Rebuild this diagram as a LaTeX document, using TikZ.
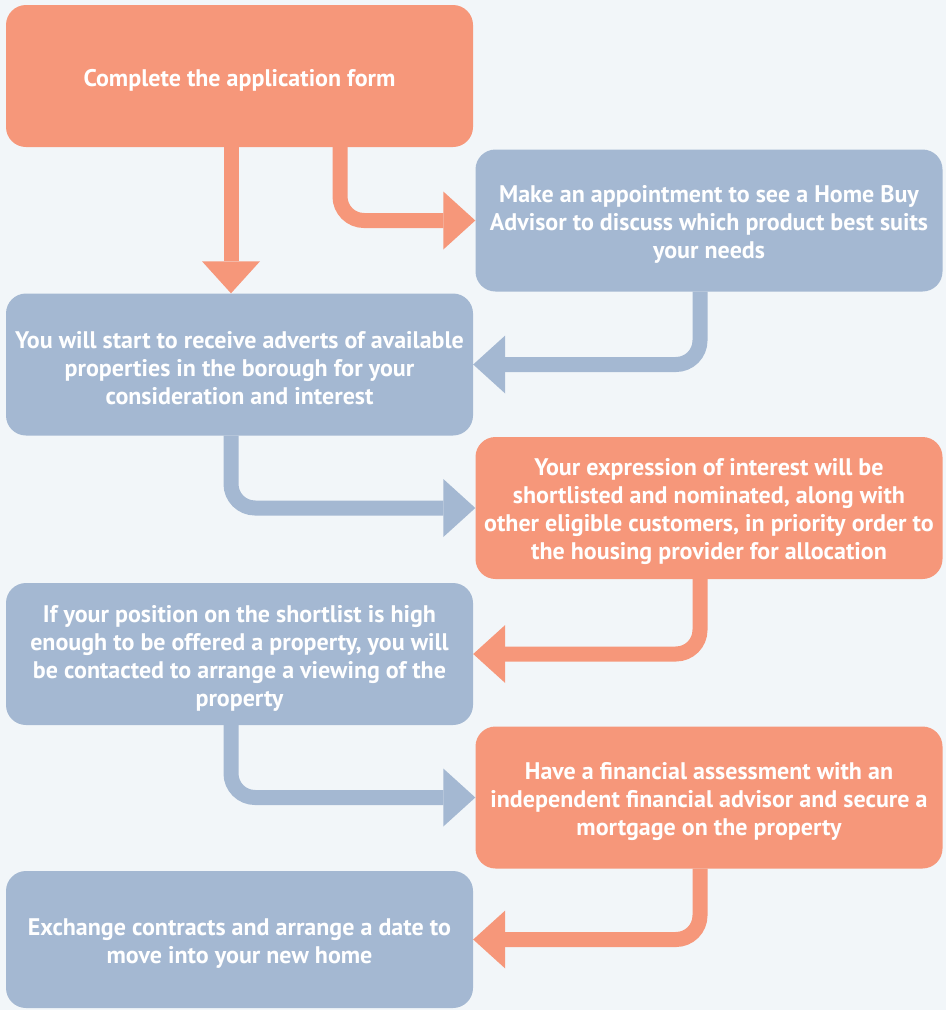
\documentclass[tikz,border=0pt]{standalone}
\usepackage{fontspec}
\setmainfont{PT Sans}
\usetikzlibrary{arrows.meta,positioning,calc}
\definecolor{salmon}{HTML}{F6977A}
\definecolor{steel}{HTML}{A4B8D2}
\definecolor{paper}{HTML}{F2F6F9}

\begin{document}
\begin{tikzpicture}[x=1pt, y=-1pt,
  box/.style={rectangle, rounded corners=20pt, minimum width=467pt, minimum height=142pt,
    inner sep=0pt, text width=466pt, align=flush center, text=white,
    font=\fontsize{24}{28}\selectfont\bfseries,
    execute at begin node={\rule{0pt}{25pt}}},
  orangebox/.style={box, fill=salmon},
  bluebox/.style={box, fill=steel},
  flow/.style={line width=15pt, rounded corners=24pt,
    -{Triangle[length=32pt, width=58pt, line width=0pt]}}]
\fill[paper] (0,0) rectangle (946,1010);
\node (S1) [orangebox] at (239.5,76) {Complete the application form};
\node (S2) [bluebox] at (709,220.5) {Make an appointment to see a Home Buy\\Advisor to discuss which product best suits\\your needs};
\node (S3) [bluebox] at (239.5,364.5) {You will start to receive adverts of available\\properties in the borough for your\\consideration and interest};
\node (S4) [orangebox] at (709,508) {Your expression of interest will be\\shortlisted and nominated, along with\\other eligible customers, in priority order to\\the housing provider for allocation};
\node (S5) [bluebox] at (239.5,654) {If your position on the shortlist is high\\enough to be offered a property, you will\\be contacted to arrange a viewing of the\\property};
\node (S6) [orangebox] at (709,797.5) {Have a financial assessment with an\\independent financial advisor and secure a\\mortgage on the property};
\node (S7) [bluebox, minimum height=137pt] at (239.5,939.5) {Exchange contracts and arrange a date to\\move into your new home};
\draw[flow, salmon] ([xshift=-8.5pt]S1.south) -- ([xshift=-8.5pt]S3.north);
\draw[flow, salmon] ([xshift=100.5pt]S1.south) |- (S2.west);
\draw[flow, steel] ([xshift=-9pt]S2.south) |- (S3.east);
\draw[flow, steel] ([xshift=-8.5pt]S3.south) |- (S4.west);
\draw[flow, salmon] ([xshift=-9pt]S4.south) |- (S5.east);
\draw[flow, steel] ([xshift=-8.5pt]S5.south) |- (S6.west);
\draw[flow, salmon] ([xshift=-9pt]S6.south) |- (S7.east);
\end{tikzpicture}
\end{document}
